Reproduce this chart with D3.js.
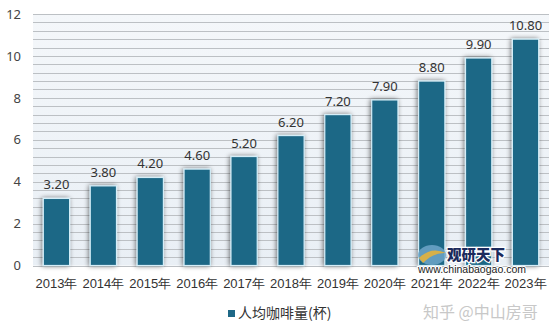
<!DOCTYPE html>
<html>
<head>
<meta charset="utf-8">
<script src="https://cdn.jsdelivr.net/npm/d3@7"></script>
<style>
  html, body { margin: 0; padding: 0; background: #fff; }
  svg { display: block; font-family: "Noto Sans CJK SC", "Noto Sans", sans-serif; }
</style>
</head>
<body>
<svg id="chart" width="560" height="334"></svg>
<script>
// Per-capita coffee consumption (cups), 2013–2023
const years = ["2013年","2014年","2015年","2016年","2017年","2018年","2019年","2020年","2021年","2022年","2023年"];
const cups = [3.20, 3.80, 4.20, 4.60, 5.20, 6.20, 7.20, 7.90, 8.80, 9.90, 10.80];
const yTicks = [0, 2, 4, 6, 8, 10, 12];
const seriesName = "人均咖啡量(杯)";

const svg = d3.select("#chart");
const plot = { left: 33, right: 549, top: 14, bottom: 265.5 };

const x = d3.scaleBand().domain(years).range([plot.left, plot.right]).paddingInner(0.44).paddingOuter(0.22);
const y = d3.scaleLinear().domain([0, 12]).range([plot.bottom, plot.top]);

const defs = svg.append("defs");
const bg = defs.append("linearGradient").attr("id", "bg").attr("x1", 0).attr("y1", 0).attr("x2", 0).attr("y2", 1);
bg.append("stop").attr("offset", 0).attr("stop-color", "#f4f7fa");
bg.append("stop").attr("offset", 1).attr("stop-color", "#e9eff5");
const sh = defs.append("filter").attr("id", "shadow").attr("x", "-40%").attr("y", "-10%").attr("width", "180%").attr("height", "120%");
sh.append("feGaussianBlur").attr("in", "SourceAlpha").attr("stdDeviation", 2.5).attr("result", "b");
sh.append("feOffset").attr("in", "b").attr("dx", -1).attr("dy", 0).attr("result", "o");
sh.append("feComponentTransfer").attr("in", "o").attr("result", "s")
  .append("feFuncA").attr("type", "linear").attr("slope", 0.55);
const m = sh.append("feMerge");
m.append("feMergeNode").attr("in", "s");
m.append("feMergeNode").attr("in", "SourceGraphic");

// plot background
svg.append("rect")
  .attr("x", plot.left).attr("y", plot.top)
  .attr("width", plot.right - plot.left).attr("height", plot.bottom - plot.top)
  .attr("fill", "url(#bg)");

// fine grid every 0.4 cups
const grid = d3.range(0, 12.0001, 0.4);
svg.append("g").selectAll("line").data(grid).join("line")
  .attr("x1", plot.left).attr("x2", plot.right)
  .attr("y1", d => Math.round(y(d)) + 0.5).attr("y2", d => Math.round(y(d)) + 0.5)
  .attr("stroke", "#bcc0c4").attr("stroke-width", 1);

// y axis labels
const yAxis = d3.axisLeft(y).tickValues(yTicks).tickSize(0).tickPadding(12).tickFormat(d3.format("d"));
svg.append("g").attr("transform", `translate(${plot.left},0)`).call(yAxis)
  .call(g => g.select(".domain").remove())
  .call(g => g.selectAll("text").attr("font-size", 13).attr("fill", "#444")
    .attr("font-family", "'Noto Sans', sans-serif"));

// bars
svg.append("g").selectAll("rect").data(years).join("rect")
  .attr("x", d => x(d))
  .attr("y", (d, i) => y(cups[i]))
  .attr("width", x.bandwidth())
  .attr("height", (d, i) => y(0) - y(cups[i]))
  .attr("fill", "#1e6886")
  .attr("stroke", "#d4eef8").attr("stroke-width", 1.2)
  .attr("filter", "url(#shadow)");

// value labels
svg.append("g").selectAll("text").data(years).join("text")
  .attr("x", d => x(d) + x.bandwidth() / 2)
  .attr("y", (d, i) => y(cups[i]) - 9)
  .attr("text-anchor", "middle")
  .attr("font-size", 13).attr("fill", "#333")
  .attr("font-family", "'Noto Sans', sans-serif")
  .text((d, i) => cups[i].toFixed(2));

// x axis labels
const xAxis = d3.axisBottom(x).tickSize(0).tickPadding(13);
svg.append("g").attr("transform", `translate(0,${plot.bottom})`).call(xAxis)
  .call(g => g.select(".domain").remove())
  .call(g => g.selectAll("text").attr("font-size", 13).attr("fill", "#333"));

// watermark logo
const wm = svg.append("g");
wm.append("ellipse").attr("cx", 432).attr("cy", 255).attr("rx", 14).attr("ry", 10)
  .attr("fill", "#6da6c9").attr("opacity", 0.85);
wm.append("path").attr("d", "M419,258 Q431,246 446,253 Q434,252 423,263 Z").attr("fill", "#e3b23c").attr("opacity", 0.9);
wm.append("text").attr("x", 447).attr("y", 260).attr("font-size", 14.5).attr("font-weight", 900)
  .attr("fill", "#1b2a5c").attr("stroke", "#fff").attr("stroke-width", 2.5).attr("paint-order", "stroke")
  .text("观研天下");
wm.append("text").attr("x", 418).attr("y", 273).attr("font-size", 10.5)
  .attr("font-family", "'Liberation Sans', Arial, sans-serif")
  .attr("fill", "#222").attr("stroke", "#fff").attr("stroke-width", 2).attr("paint-order", "stroke")
  .text("www.chinabaogao.com");

// legend
const legend = svg.append("g");
legend.append("rect").attr("x", 228).attr("y", 310).attr("width", 7).attr("height", 7).attr("fill", "#1e6886");
legend.append("text").attr("x", 238).attr("y", 318).attr("font-size", 14).attr("fill", "#333").text(seriesName);

// site watermark
svg.append("text").attr("x", 423).attr("y", 318).attr("font-size", 16).attr("fill", "#c8c8c8")
  .text("知乎 @中山房哥");
</script>
</body>
</html>
